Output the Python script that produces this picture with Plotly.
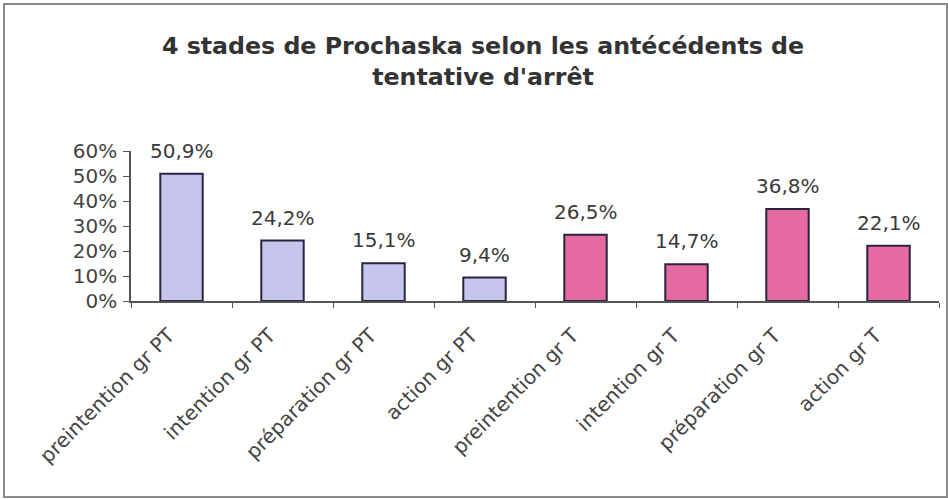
import plotly.graph_objects as go

categories = ["preintention gr PT", "intention gr PT", "préparation gr PT", "action gr PT",
              "preintention gr T", "intention gr T", "préparation gr T", "action gr T"]
values = [50.9, 24.2, 15.1, 9.4, 26.5, 14.7, 36.8, 22.1]
groups = ["PT", "PT", "PT", "PT", "T", "T", "T", "T"]
y_ticks = [0, 10, 20, 30, 40, 50, 60]
title_text = "4 stades de Prochaska selon les antécédents de<br>tentative d'arrêt"

group_colors = {"PT": "#C6C5EC", "T": "#E66AA2"}
colors = [group_colors[g] for g in groups]
FONT = "DejaVu Sans, Arial"

fig = go.Figure()
fig.add_trace(go.Bar(
    x=categories, y=values,
    marker=dict(color=colors, line=dict(color="#2a2440", width=2)),
    width=0.42, hoverinfo="skip",
))

for c, v in zip(categories, values):
    fig.add_annotation(x=c, y=v, text=f"{v:.1f}%".replace(".", ","),
                       showarrow=False, yanchor="bottom", yshift=9,
                       font=dict(family=FONT, size=20, color="#3a3a3a"))

L, R, T, B = 131, 939, 151, 301
fig.update_layout(
    width=948, height=499,
    paper_bgcolor="white", plot_bgcolor="white",
    margin=dict(l=L, r=948 - R, t=T, b=499 - B),
    showlegend=False,
    title=dict(text=title_text, x=483 / 948, xanchor="center", y=0.892, yanchor="top",
               font=dict(family=FONT, size=23.7, color="#333333", weight="bold")),
)
pw, ph = R - L, B - T
fig.add_shape(type="rect", xref="paper", yref="paper",
              x0=(4 - L) / pw, x1=(947 - L) / pw, y0=(B - 497) / ph, y1=(B - 4) / ph,
              line=dict(color="#8a8a8a", width=2))

fig.update_xaxes(
    showline=True, linecolor="#555555", linewidth=1.5,
    ticks="outside", tickson="boundaries", ticklen=5, tickcolor="#555555",
    tickangle=-45, showgrid=False,
    ticklabelshift=-13, ticklabelstandoff=13,
    tickfont=dict(family=FONT, size=20, color="#444444"),
)
fig.update_yaxes(
    range=[0, 60], tickvals=y_ticks, ticktext=[f"{t}%" for t in y_ticks],
    showline=True, linecolor="#555555", linewidth=1.5,
    ticks="outside", ticklen=6, tickcolor="#555555", showgrid=False, zeroline=False,
    ticklabelstandoff=2,
    tickfont=dict(family=FONT, size=20, color="#444444"),
)

fig.write_html("out.html", config={"displayModeBar": False},
               post_script="document.body.style.margin='0';")
